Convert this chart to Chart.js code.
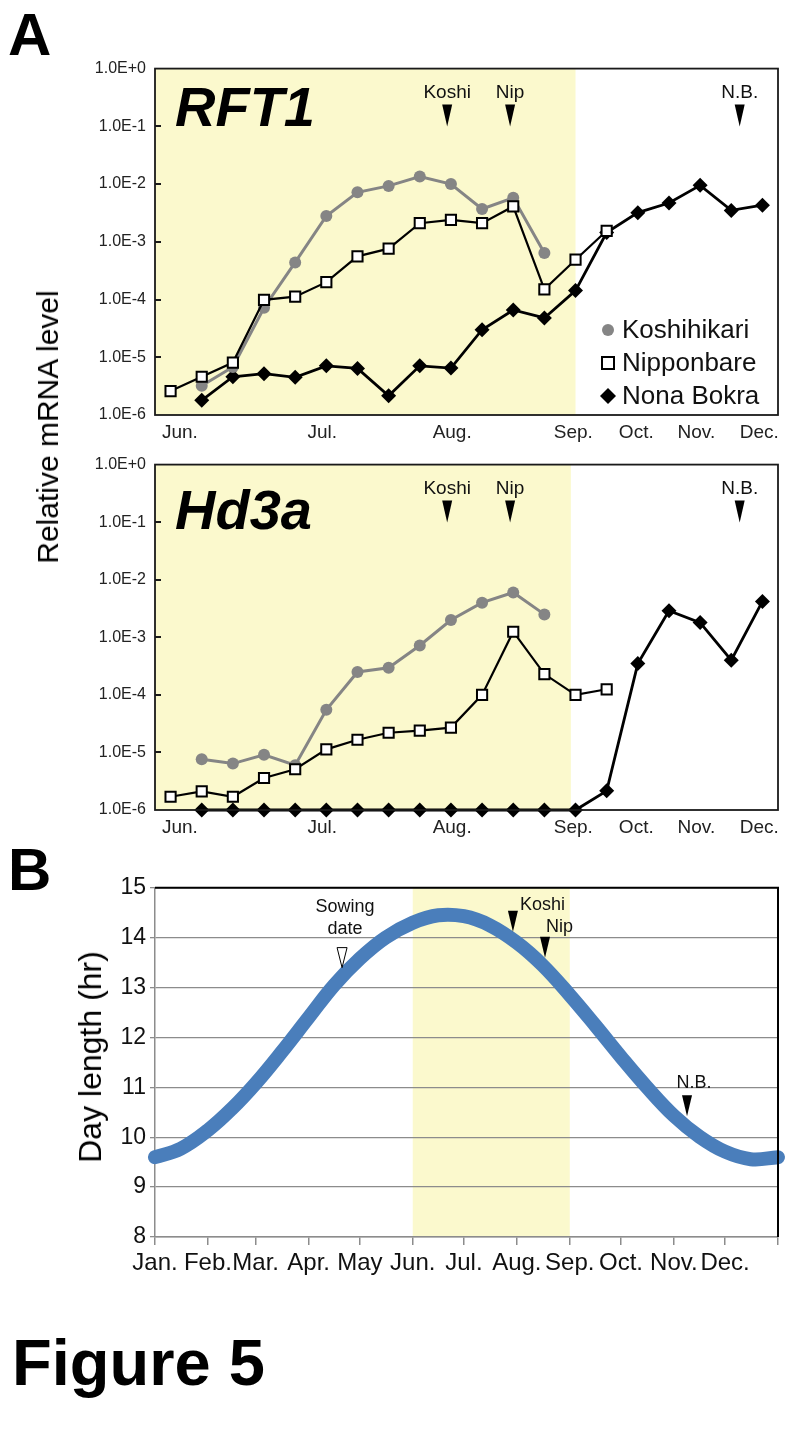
<!DOCTYPE html>
<html>
<head>
<meta charset="utf-8">
<script src="https://cdn.jsdelivr.net/npm/chart.js@4.4.1/dist/chart.umd.min.js"></script>
<style>
  body { margin: 0; background: #fff; }
  #page { position: relative; width: 794px; height: 1438px; overflow: hidden;
          font-family: "Liberation Sans", Arial, sans-serif; color: #000; }
  canvas { position: absolute; left: 0; }
  .lbl { position: absolute; line-height: 1; white-space: nowrap; }
  .rot { position: absolute; line-height: 1; white-space: nowrap;
         transform: translate(-50%, -50%) rotate(-90deg); }
</style>
</head>
<body>
<div id="page">
  <canvas id="rft1" width="794" height="400" style="top:50px"></canvas>
  <canvas id="hd3a" width="794" height="400" style="top:446px"></canvas>
  <canvas id="daylen" width="794" height="420" style="top:870px"></canvas>
  <div class="lbl" style="left:8px;top:5px;font-size:60px;font-weight:bold">A</div>
  <div class="lbl" style="left:8px;top:840px;font-size:60px;font-weight:bold">B</div>
  <div class="lbl" style="left:12px;top:1330px;font-size:65px;font-weight:bold">Figure 5</div>
  <div class="rot" style="left:48px;top:427px;font-size:30px">Relative mRNA level</div>
  <div class="rot" style="left:90px;top:1057px;font-size:32px">Day length (hr)</div>
</div>
<script>
const FONT = '"Liberation Sans", Arial, sans-serif';
Chart.defaults.font.family = FONT;

// --- panel A: weekly samplings, June -> December (index of sampling)
const samplePos = [0, 1, 2, 3, 4, 5, 6, 7, 8, 9, 10, 11, 12, 13, 14, 15, 16, 17, 18, 19];
const monthTickPos = [0.3, 4.87, 9.04, 12.93, 14.95, 16.88, 18.9];
const monthTickLabels = ['Jun.', 'Jul.', 'Aug.', 'Sep.', 'Oct.', 'Nov.', 'Dec.'];
const decadeTicks = [1e-6, 1e-5, 1e-4, 1e-3, 1e-2, 1e-1, 1];
const seriesNames = ['Koshihikari', 'Nipponbare', 'Nona Bokra'];

const rft1Koshi = [null, 3.2e-6, 6.8e-6, 7.2e-5, 4.4e-4, 2.8e-3, 7.2e-3, 9.3e-3, 1.35e-2, 1.0e-2, 3.7e-3, 5.8e-3, 6.4e-4];
const rft1Nip = [2.6e-6, 4.6e-6, 8.1e-6, 9.9e-5, 1.12e-4, 2.0e-4, 5.6e-4, 7.6e-4, 2.1e-3, 2.4e-3, 2.1e-3, 4.1e-3, 1.5e-4, 4.9e-4, 1.55e-3];
const rft1Nona = [null, 1.8e-6, 4.6e-6, 5.2e-6, 4.5e-6, 7.1e-6, 6.4e-6, 2.15e-6, 7.1e-6, 6.5e-6, 3.0e-5, 6.6e-5, 4.8e-5, 1.43e-4, 1.45e-3, 3.2e-3, 4.7e-3, 9.5e-3, 3.5e-3, 4.3e-3];

const hd3aKoshi = [null, 7.6e-6, 6.4e-6, 9.1e-6, 6.0e-6, 5.5e-5, 2.5e-4, 2.95e-4, 7.2e-4, 2.0e-3, 4.0e-3, 6.0e-3, 2.5e-3];
const hd3aNip = [1.7e-6, 2.1e-6, 1.7e-6, 3.6e-6, 5.1e-6, 1.13e-5, 1.66e-5, 2.2e-5, 2.4e-5, 2.7e-5, 1.0e-4, 1.25e-3, 2.3e-4, 1.0e-4, 1.25e-4];
const hd3aNona = [null, 1e-6, 1e-6, 1e-6, 1e-6, 1e-6, 1e-6, 1e-6, 1e-6, 1e-6, 1e-6, 1e-6, 1e-6, 1e-6, 2.15e-6, 3.5e-4, 2.9e-3, 1.8e-3, 4.0e-4, 4.2e-3];

// heading dates marked with arrows
const headingLabels = ['Koshi', 'Nip', 'N.B.'];
const headingPosA = [8.88, 10.9, 18.27];

// --- panel B: day length over the year
const monthStartDay = [0, 31, 59, 90, 120, 151, 181, 212, 243, 273, 304, 334, 365];
const monthNamesB = ['Jan.', 'Feb.', 'Mar.', 'Apr.', 'May', 'Jun.', 'Jul.', 'Aug.', 'Sep.', 'Oct.', 'Nov.', 'Dec.'];
const dayOfYear = [0, 15, 31, 45, 59, 74, 90, 105, 120, 135, 151, 166, 181, 196, 212, 227, 243, 258, 273, 288, 304, 319, 334, 349, 365];
const dayLength = [9.6, 9.77, 10.14, 10.57, 11.08, 11.7, 12.4, 13.05, 13.58, 14.0, 14.3, 14.45, 14.43, 14.25, 13.9, 13.45, 12.85, 12.24, 11.61, 11.01, 10.43, 10.01, 9.71, 9.56, 9.6];
const markLabelsB = ['Sowing date', 'Koshi', 'Nip', 'N.B.'];
const markDayB = [109.6, 209.7, 228.5, 311.7];
const markTipB = [13.4, 14.12, 13.6, 10.42];

const SHADE = '#fbf9cd';

function pts(arr) {
  return arr.map((v, i) => ({ x: samplePos[i], y: v })).filter(p => p.y !== null);
}

function tri(ctx, x, tipY, w, h, filled) {
  ctx.beginPath();
  ctx.moveTo(x - w / 2, tipY - h);
  ctx.lineTo(x + w / 2, tipY - h);
  ctx.lineTo(x, tipY);
  ctx.closePath();
  if (filled) {
    ctx.fillStyle = '#000';
    ctx.fill();
  } else {
    ctx.fillStyle = '#fff';
    ctx.fill();
    ctx.lineWidth = 1;
    ctx.strokeStyle = '#000';
    ctx.stroke();
  }
}

function shadePlugin(from, to) {
  return {
    id: 'shade',
    beforeDraw(chart) {
      const { ctx, chartArea: a, scales: { x } } = chart;
      const x0 = Math.max(a.left, x.getPixelForValue(from));
      const x1 = x.getPixelForValue(to);
      ctx.save();
      ctx.fillStyle = SHADE;
      ctx.fillRect(x0, a.top, x1 - x0, a.bottom - a.top);
      ctx.restore();
    }
  };
}

function exprDecor(gene, geneBase, legend) {
  return {
    id: 'exprDecor',
    afterDraw(chart) {
      const { ctx, chartArea: a, scales: { x, y } } = chart;
      ctx.save();
      // frame
      ctx.strokeStyle = '#1a1a1a';
      ctx.lineWidth = 1.8;
      ctx.strokeRect(a.left, a.top, a.right - a.left, a.bottom - a.top);
      // inward ticks
      ctx.lineWidth = 2;
      decadeTicks.slice(1, -1).forEach(v => {
        const py = Math.round(y.getPixelForValue(v));
        ctx.beginPath();
        ctx.moveTo(a.left, py);
        ctx.lineTo(a.left + 6, py);
        ctx.stroke();
      });
      // gene name
      ctx.fillStyle = '#000';
      ctx.font = 'italic bold 56px ' + FONT;
      ctx.textBaseline = 'alphabetic';
      ctx.textAlign = 'left';
      ctx.fillText(gene, a.left + 20, a.top + geneBase);
      // heading arrows
      ctx.font = '19px ' + FONT;
      ctx.textAlign = 'center';
      ctx.textBaseline = 'middle';
      headingLabels.forEach((t, i) => {
        const px = x.getPixelForValue(headingPosA[i]);
        ctx.fillStyle = '#111';
        ctx.fillText(t, px, a.top + 24);
        tri(ctx, px, a.top + 58, 10, 22, true);
      });
      if (legend) {
        const mx = a.right - 170, tx = a.right - 156;
        const ys = [a.bottom - 85, a.bottom - 52, a.bottom - 19];
        ctx.font = '26px ' + FONT;
        ctx.textAlign = 'left';
        ctx.fillStyle = '#111';
        seriesNames.forEach((n, i) => ctx.fillText(n, tx, ys[i] + 1));
        ctx.fillStyle = '#858585';
        ctx.beginPath(); ctx.arc(mx, ys[0], 6, 0, Math.PI * 2); ctx.fill();
        ctx.fillStyle = '#fff'; ctx.strokeStyle = '#000'; ctx.lineWidth = 2;
        ctx.fillRect(mx - 6, ys[1] - 6, 12, 12); ctx.strokeRect(mx - 6, ys[1] - 6, 12, 12);
        ctx.fillStyle = '#000';
        ctx.beginPath();
        ctx.moveTo(mx - 8, ys[2]); ctx.lineTo(mx, ys[2] - 8); ctx.lineTo(mx + 8, ys[2]); ctx.lineTo(mx, ys[2] + 8);
        ctx.closePath(); ctx.fill();
      }
      ctx.restore();
    }
  };
}

function exprChart(id, gene, geneBase, koshi, nip, nona, shadeEnd, legend, xHeight) {
  return new Chart(document.getElementById(id), {
    type: 'line',
    data: {
      datasets: [
        { label: seriesNames[0], data: pts(koshi), order: 1, borderColor: '#858585', borderWidth: 3,
          pointStyle: 'circle', pointRadius: 6, pointBackgroundColor: '#858585', pointBorderWidth: 0, clip: false },
        { label: seriesNames[1], data: pts(nip), order: 0, borderColor: '#000', borderWidth: 2.2,
          pointStyle: 'rect', pointRadius: 7.2, pointBackgroundColor: '#fff', pointBorderColor: '#000', pointBorderWidth: 2, clip: false },
        { label: seriesNames[2], data: pts(nona), order: 2, borderColor: '#000', borderWidth: 2.8,
          pointStyle: 'rectRot', pointRadius: 7.5, pointBackgroundColor: '#000', pointBorderWidth: 0, clip: false }
      ]
    },
    options: {
      responsive: false,
      animation: false,
      layout: { padding: { top: 16, right: 16, left: 0, bottom: 0 } },
      plugins: { legend: { display: false }, tooltip: { enabled: false } },
      scales: {
        x: {
          type: 'linear', min: -0.5, max: 19.5,
          afterBuildTicks: s => { s.ticks = monthTickPos.map(v => ({ value: v })); },
          afterFit: s => { s.height = xHeight; },
          grid: { display: false, drawTicks: false },
          border: { display: false },
          ticks: { autoSkip: false, maxRotation: 0, padding: 6, color: '#222', font: { size: 19 },
                   callback: (v, i) => monthTickLabels[i] }
        },
        y: {
          type: 'logarithmic', min: 1e-6, max: 1,
          afterBuildTicks: s => { s.ticks = decadeTicks.map(v => ({ value: v })); },
          afterFit: s => { s.width = 155; },
          grid: { display: false, drawTicks: false },
          border: { display: false },
          ticks: { padding: 9, color: '#222', font: { size: 16 },
                   callback: v => Number(v).toExponential(1).toUpperCase() }
        }
      }
    },
    plugins: [shadePlugin(-0.5, shadeEnd), exprDecor(gene, geneBase, legend)]
  });
}

exprChart('rft1', 'RFT1', 57, rft1Koshi, rft1Nip, rft1Nona, 13.0, true, 35);
exprChart('hd3a', 'Hd3a', 64, hd3aKoshi, hd3aNip, hd3aNona, 12.85, false, 36);

// --- panel B
const dayDecor = {
  id: 'dayDecor',
  afterDraw(chart) {
    const { ctx, chartArea: a, scales: { x, y } } = chart;
    ctx.save();
    ctx.strokeStyle = '#000';
    ctx.lineWidth = 2;
    ctx.beginPath();
    ctx.moveTo(a.left, a.top);
    ctx.lineTo(a.right, a.top);
    ctx.lineTo(a.right, a.bottom);
    ctx.stroke();

    ctx.font = '18px ' + FONT;
    ctx.textBaseline = 'middle';
    ctx.fillStyle = '#111';
    markLabelsB.forEach((t, i) => {
      const px = x.getPixelForValue(markDayB[i]);
      const tip = y.getPixelForValue(markTipB[i]);
      if (i === 0) {
        ctx.textAlign = 'center';
        ctx.fillStyle = '#111';
        ctx.fillText('Sowing', px + 3, tip - 61);
        ctx.fillText('date', px + 3, tip - 39);
        tri(ctx, px, tip, 10, 20, false);
      } else if (t === 'N.B.') {
        ctx.textAlign = 'center';
        ctx.fillStyle = '#111';
        ctx.fillText(t, px + 7, tip - 33);
        tri(ctx, px, tip, 10, 21, true);
      } else {
        ctx.textAlign = 'left';
        ctx.fillStyle = '#111';
        ctx.fillText(t, px + (t === 'Koshi' ? 7 : 1), tip - (t === 'Koshi' ? 27 : 31));
        tri(ctx, px, tip, 10, 21, true);
      }
    });
    ctx.restore();
  }
};

new Chart(document.getElementById('daylen'), {
  type: 'line',
  data: {
    datasets: [{
      label: 'Day length',
      data: dayOfYear.map((d, i) => ({ x: d, y: dayLength[i] })),
      borderColor: '#4a7ebb',
      borderWidth: 14,
      borderCapStyle: 'round',
      pointRadius: 0,
      tension: 0.4,
      fill: false,
      clip: false
    }]
  },
  options: {
    responsive: false,
    animation: false,
    layout: { padding: { top: 16, right: 16, left: 0, bottom: 0 } },
    plugins: { legend: { display: false }, tooltip: { enabled: false } },
    scales: {
      x: {
        type: 'linear', min: 0, max: 365,
        afterBuildTicks: s => { s.ticks = monthStartDay.map(v => ({ value: v })); },
        afterFit: s => { s.height = 53; },
        grid: { drawOnChartArea: false, drawTicks: true, tickLength: 8, color: '#8c8c8c', lineWidth: 1.5 },
        border: { color: '#8c8c8c', width: 1.5 },
        ticks: { autoSkip: false, maxRotation: 0, padding: 4, color: '#111', font: { size: 24 },
                 callback: (v, i) => monthNamesB[i] || '' }
      },
      y: {
        min: 8, max: 15,
        afterFit: s => { s.width = 155; },
        grid: { color: '#8c8c8c', lineWidth: 1.3, tickLength: 5 },
        border: { color: '#8c8c8c', width: 1.5 },
        ticks: { stepSize: 1, padding: 4, color: '#111', font: { size: 23 } }
      }
    }
  },
  plugins: [shadePlugin(151, 243), dayDecor]
});
</script>
</body>
</html>
